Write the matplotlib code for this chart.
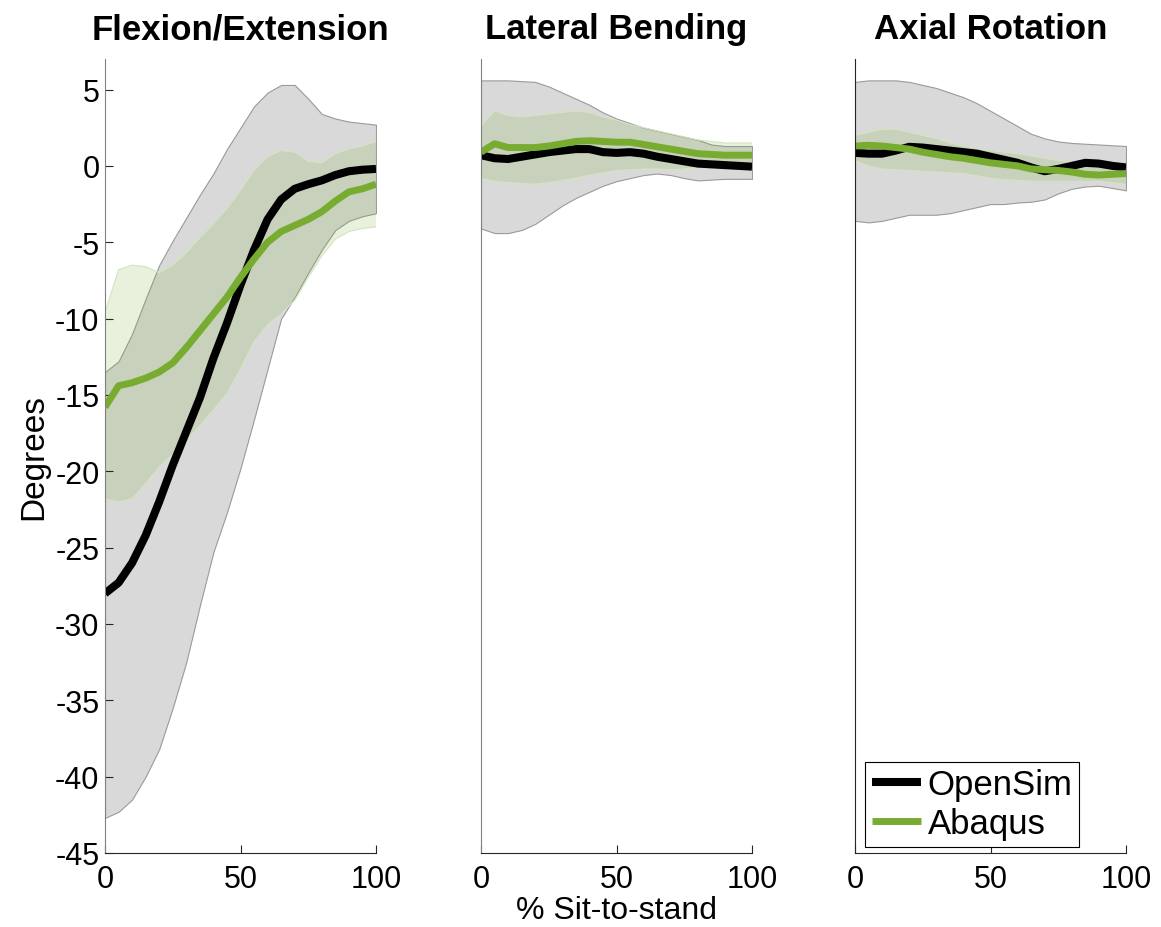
import matplotlib
matplotlib.use("Agg")
import matplotlib.pyplot as plt
import numpy as np

plt.rcParams['font.family'] = ['Liberation Sans', 'DejaVu Sans']
plt.rcParams['axes.unicode_minus'] = False

# % sit-to-stand
pct = [0, 5, 10, 15, 20, 25, 30, 35, 40, 45, 50, 55, 60, 65, 70, 75, 80, 85, 90, 95, 100]

# Flexion/Extension
fe_os_mean = [-28.0, -27.3, -26.0, -24.2, -22.0, -19.6, -17.4, -15.2, -12.6, -10.3, -7.8,
              -5.5, -3.5, -2.2, -1.5, -1.2, -0.95, -0.6, -0.35, -0.25, -0.2]
fe_os_hi = [-13.5, -12.8, -11.0, -8.7, -6.5, -4.9, -3.4, -1.9, -0.5, 1.1, 2.5,
            3.9, 4.8, 5.3, 5.3, 4.4, 3.4, 3.1, 2.9, 2.8, 2.7]
fe_os_lo = [-42.7, -42.3, -41.5, -40.0, -38.2, -35.5, -32.5, -28.8, -25.3, -22.7, -19.8,
            -16.6, -13.3, -10.0, -8.6, -7.0, -5.5, -4.2, -3.6, -3.3, -3.1]
fe_ab_mean = [-15.8, -14.4, -14.2, -13.9, -13.5, -12.9, -11.9, -10.8, -9.7, -8.6, -7.3,
              -6.1, -5.0, -4.3, -3.9, -3.5, -3.0, -2.3, -1.7, -1.5, -1.2]
fe_ab_hi = [-9.6, -6.8, -6.5, -6.6, -7.0, -6.5, -5.7, -4.7, -3.8, -2.8, -1.6,
            -0.3, 0.6, 1.0, 0.9, 0.3, 0.2, 0.8, 1.1, 1.3, 1.6]
fe_ab_lo = [-21.8, -22.0, -21.8, -20.8, -19.7, -18.9, -18.0, -17.0, -16.0, -14.9, -13.3,
            -11.5, -10.4, -9.7, -8.8, -7.3, -5.9, -4.8, -4.3, -4.1, -4.0]

# Lateral Bending
lb_os_mean = [0.7, 0.5, 0.45, 0.6, 0.75, 0.9, 1.0, 1.1, 1.1, 0.9, 0.85,
              0.9, 0.8, 0.6, 0.45, 0.3, 0.15, 0.1, 0.05, 0.0, -0.05]
lb_os_hi = [5.6, 5.6, 5.6, 5.55, 5.5, 5.2, 4.8, 4.4, 4.0, 3.5, 3.1,
            2.8, 2.5, 2.3, 2.1, 1.9, 1.7, 1.4, 1.3, 1.3, 1.3]
lb_os_lo = [-4.1, -4.4, -4.4, -4.2, -3.8, -3.2, -2.6, -2.1, -1.7, -1.3, -1.0,
            -0.8, -0.6, -0.5, -0.6, -0.8, -0.95, -0.9, -0.85, -0.85, -0.85]
lb_ab_mean = [0.9, 1.45, 1.2, 1.2, 1.2, 1.3, 1.45, 1.6, 1.65, 1.6, 1.55,
              1.55, 1.4, 1.25, 1.1, 0.95, 0.8, 0.75, 0.7, 0.7, 0.7]
lb_ab_hi = [2.6, 3.6, 3.3, 3.2, 3.3, 3.4, 3.5, 3.6, 3.5, 3.2, 3.0,
            2.7, 2.5, 2.3, 2.1, 1.9, 1.7, 1.6, 1.5, 1.5, 1.5]
lb_ab_lo = [-0.85, -1.0, -1.1, -1.15, -1.2, -1.1, -0.95, -0.8, -0.6, -0.45, -0.3,
            -0.25, -0.2, -0.2, -0.25, -0.2, -0.1, -0.1, -0.1, -0.15, -0.2]

# Axial Rotation
ar_os_mean = [0.85, 0.8, 0.8, 1.0, 1.25, 1.2, 1.1, 1.0, 0.9, 0.8, 0.6,
              0.4, 0.2, -0.1, -0.35, -0.2, 0.0, 0.2, 0.15, 0.0, -0.1]
ar_os_hi = [5.5, 5.6, 5.6, 5.6, 5.5, 5.3, 5.1, 4.8, 4.5, 4.1, 3.6,
            3.1, 2.6, 2.1, 1.8, 1.6, 1.5, 1.45, 1.4, 1.35, 1.3]
ar_os_lo = [-3.6, -3.7, -3.6, -3.4, -3.2, -3.2, -3.2, -3.1, -2.9, -2.7, -2.5,
            -2.5, -2.4, -2.35, -2.2, -1.8, -1.5, -1.35, -1.3, -1.45, -1.6]
ar_ab_mean = [1.3, 1.35, 1.3, 1.2, 1.1, 0.9, 0.75, 0.6, 0.5, 0.35, 0.2,
              0.1, 0.0, -0.2, -0.25, -0.3, -0.4, -0.55, -0.6, -0.55, -0.5]
ar_ab_hi = [2.0, 2.2, 2.4, 2.4, 2.2, 2.0, 1.8, 1.5, 1.3, 1.15, 1.0,
            0.9, 0.8, 0.65, 0.5, 0.35, 0.2, 0.15, 0.1, 0.05, 0.0]
ar_ab_lo = [0.35, 0.0, -0.2, -0.25, -0.3, -0.35, -0.4, -0.45, -0.5, -0.65, -0.8,
            -0.9, -0.95, -1.0, -1.0, -1.0, -1.0, -1.0, -1.0, -1.1, -1.2]

titles = ["Flexion/Extension", "Lateral Bending", "Axial Rotation"]
panels = [
    (fe_os_mean, fe_os_lo, fe_os_hi, fe_ab_mean, fe_ab_lo, fe_ab_hi),
    (lb_os_mean, lb_os_lo, lb_os_hi, lb_ab_mean, lb_ab_lo, lb_ab_hi),
    (ar_os_mean, ar_os_lo, ar_os_hi, ar_ab_mean, ar_ab_lo, ar_ab_hi),
]

os_color = "black"
ab_color = "#77ac30"
gray_fill = "#d9d9d9"

fig = plt.figure(figsize=(11.61, 9.28), dpi=100)
lefts = [105 / 1161, 481 / 1161, 855 / 1161]
w = 271 / 1161
bottom = 1 - 854 / 928
h = (854 - 60) / 928

for i, (left, title, data) in enumerate(zip(lefts, titles, panels)):
    os_m, os_lo, os_hi, ab_m, ab_lo, ab_hi = data
    ax = fig.add_axes([left, bottom, w, h])
    ax.fill_between(pct, os_lo, os_hi, facecolor=gray_fill, edgecolor="#9a9a9a", linewidth=0.8)
    ax.fill_between(pct, ab_lo, ab_hi, facecolor=ab_color, alpha=0.17, edgecolor="none")
    ax.plot(pct, ab_lo, color="#d4e4bf", lw=0.8)
    ax.plot(pct, ab_hi, color="#d4e4bf", lw=0.8)
    ax.plot(pct, os_m, color=os_color, lw=5.8, label="OpenSim", solid_capstyle="butt")
    ax.plot(pct, ab_m, color=ab_color, lw=5.0, label="Abaqus", solid_capstyle="butt")

    ax.set_xlim(0, 100)
    ax.set_ylim(-45, 7)
    ax.set_xticks([0, 50, 100])
    ax.set_title(title, fontsize=25, fontweight="bold", pad=15)
    for s in ["top", "right"]:
        ax.spines[s].set_visible(False)
    ax.spines["bottom"].set_color("#262626")
    ax.spines["left"].set_color("#808080" if i < 2 else "#262626")
    ax.tick_params(direction="in", length=6, width=0.8, labelsize=22, colors="#262626")
    ax.tick_params(axis="x", labelcolor="black", pad=8)
    ax.tick_params(axis="y", labelcolor="black", pad=4)
    if i == 0:
        ax.set_yticks(np.arange(-45, 6, 5))
        ax.set_ylabel("Degrees", fontsize=24, labelpad=4)
    else:
        ax.set_yticks([])
    if i == 1:
        ax.set_xlabel("% Sit-to-stand", fontsize=23, labelpad=1)
    if i == 2:
        leg = ax.legend(loc="lower left", bbox_to_anchor=(0.037, 0.008), borderaxespad=0,
                        fontsize=25, fancybox=False, edgecolor="black", framealpha=1,
                        handlelength=1.4, handletextpad=0.2, borderpad=0.2, labelspacing=0.15)
        leg.get_frame().set_linewidth(0.8)

fig.savefig("out.png", dpi=100)
